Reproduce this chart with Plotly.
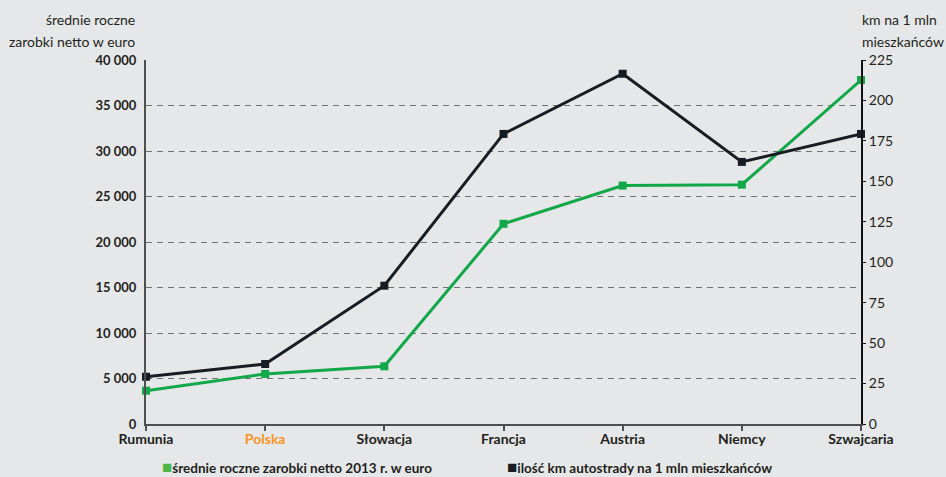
import plotly.graph_objects as go

countries = ["Rumunia", "Polska", "Słowacja", "Francja", "Austria", "Niemcy", "Szwajcaria"]
country_labels = ["Rumunia", "<span style='color:#f7941d'>Polska</span>", "Słowacja",
                  "Francja", "Austria", "Niemcy", "Szwajcaria"]
salary_eur = [3660, 5500, 6340, 22000, 26200, 26300, 37800]
motorway_km = [29.2, 37.1, 85.5, 179.3, 216.5, 162.0, 179.3]

left_tickvals = [0, 5000, 10000, 15000, 20000, 25000, 30000, 35000, 40000]
left_ticktext = ["0", "5 000", "10 000", "15 000", "20 000", "25 000", "30 000", "35 000", "40 000"]
right_tickvals = [0, 25, 50, 75, 100, 125, 150, 175, 200, 225]
right_ticktext = [str(v) for v in right_tickvals]

name_salary = "średnie roczne zarobki netto 2013 r. w euro"
name_km = "ilość km autostrady na 1 mln mieszkańców"
title_left_lines = ["średnie roczne", "zarobki netto w euro"]
title_right_lines = ["km na 1 mln", "mieszkańców"]

GREEN = "#12a84a"
GREEN_LEG = "#4db848"
BLACK = "#161d24"
BG = "#e6e7e8"
AXIS = "#4d4f53"
TXT = "#231f20"
FONT = "Lato"

xs = list(range(len(countries)))

fig = go.Figure()
fig.add_trace(go.Scatter(
    x=xs, y=motorway_km, yaxis="y2", mode="lines+markers", name=name_km,
    line=dict(color=BLACK, width=3), marker=dict(symbol="square", size=8, color=BLACK),
    cliponaxis=False))
fig.add_trace(go.Scatter(
    x=xs, y=salary_eur, yaxis="y", mode="lines+markers", name=name_salary,
    line=dict(color=GREEN, width=3), marker=dict(symbol="square", size=8, color=GREEN),
    cliponaxis=False))

fig.update_layout(
    width=946, height=477,
    margin=dict(l=146, r=85, t=60, b=53, autoexpand=False),
    paper_bgcolor=BG, plot_bgcolor=BG,
    font=dict(family=FONT, color=TXT, size=13),
    showlegend=False,
    xaxis=dict(
        range=[0, 6], tickvals=xs, ticktext=country_labels,
        showline=True, linecolor=AXIS, linewidth=2,
        ticks="outside", ticklen=5, tickcolor=AXIS, tickwidth=1.5,
        ticklabelstandoff=-4,
        showgrid=False, zeroline=False,
        tickfont=dict(family=FONT, size=14, color=TXT, weight="bold"),
    ),
    yaxis=dict(
        range=[0, 40000], tickvals=left_tickvals, ticktext=left_ticktext,
        showline=True, linecolor=AXIS, linewidth=2,
        ticks="", ticklabelstandoff=5,
        showgrid=True, gridcolor="#6f7175", gridwidth=1, griddash="6px,5px",
        zeroline=False,
        tickfont=dict(family=FONT, size=13, color=TXT, weight="bold"),
    ),
    yaxis2=dict(
        range=[0, 225], tickvals=right_tickvals, ticktext=right_ticktext,
        overlaying="y", side="right",
        showline=True, linecolor="#111111", linewidth=2,
        ticks="outside", ticklen=3, tickcolor="#111111",
        showgrid=False, zeroline=False,
        tickfont=dict(family=FONT, size=14, color=TXT),
    ),
)

for i, (ly, ry) in enumerate(zip(title_left_lines, title_right_lines)):
    ypos = 1.0 + (40 - 22 * i) / 364
    fig.add_annotation(text=ly, xref="paper", yref="paper", x=-0.0126, y=ypos,
                       xanchor="right", yanchor="middle", showarrow=False,
                       font=dict(family=FONT, size=14, color=TXT))
    fig.add_annotation(text=ry, xref="paper", yref="paper", x=0.999, y=ypos,
                       xanchor="left", yanchor="middle", showarrow=False,
                       font=dict(family=FONT, size=14, color=TXT))

# legend rows
fig.add_annotation(text=f"<span style='color:{GREEN_LEG};font-size:17px'>■</span>{name_salary}",
                   xref="paper", yref="paper", x=0.02, y=-0.118,
                   xanchor="left", yanchor="middle", showarrow=False,
                   font=dict(family=FONT, size=13.5, color=TXT, weight="bold"))
fig.add_annotation(text=f"<span style='color:{BLACK};font-size:17px'>■</span>{name_km}",
                   xref="paper", yref="paper", x=0.502, y=-0.118,
                   xanchor="left", yanchor="middle", showarrow=False,
                   font=dict(family=FONT, size=13.5, color=TXT, weight="bold"))

fig.write_html("out.html", config={"displayModeBar": False},
               post_script="document.body.style.margin='0';")
